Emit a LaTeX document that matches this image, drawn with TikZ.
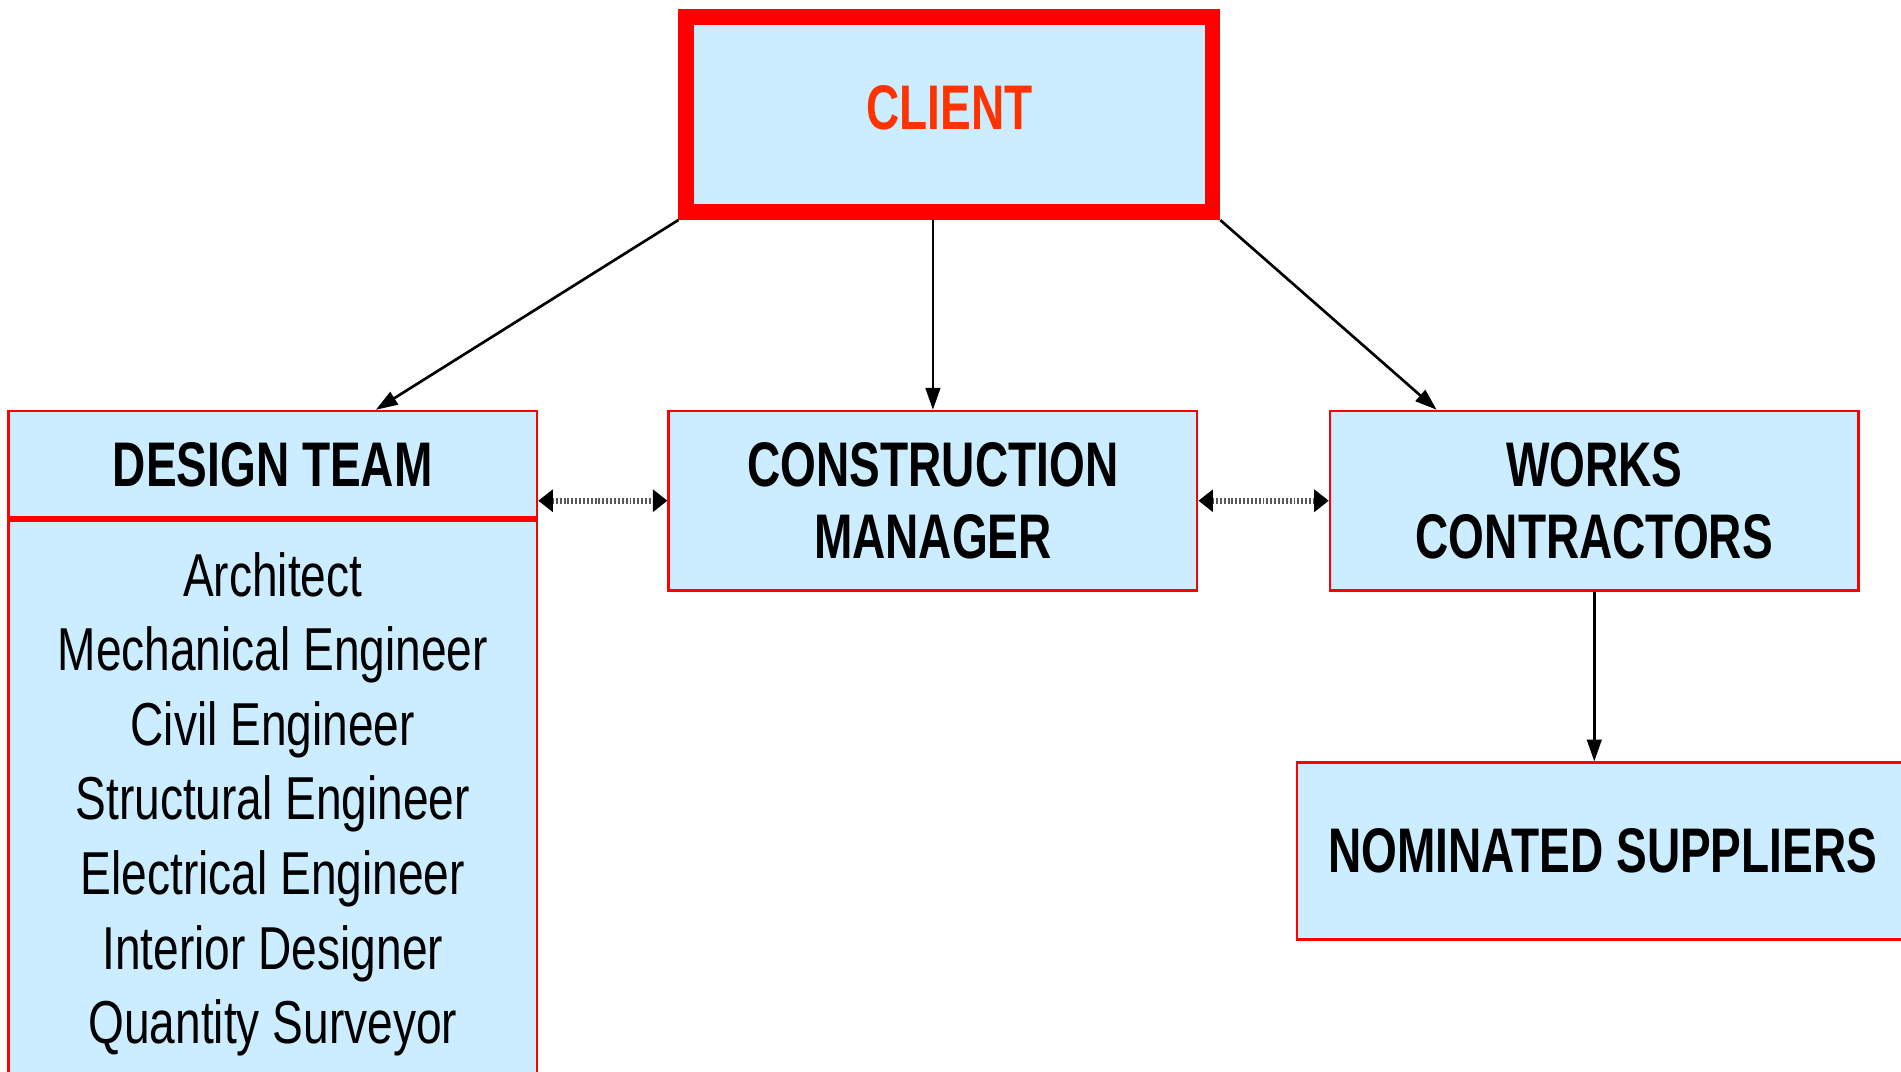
\documentclass[tikz,border=0pt]{standalone}
\usepackage{fontspec}
\setmainfont{Liberation Sans}[FakeStretch=0.76, BoldFeatures={FakeStretch=0.73}]
\usetikzlibrary{
  positioning,
  arrows.meta}
\definecolor{boxcolor}{RGB}{204,236,255}
\definecolor{bordercolor}{RGB}{255,0,0}
\definecolor{clientcolor}{RGB}{255,51,0}
\tikzset{
  %% party : one party of the project
  party/.style={
    rectangle,
    draw=bordercolor,
    line width=1pt,
    fill=boxcolor,
    minimum width=218pt,
    minimum height=74pt,
    inner sep=0pt,
    font=\fontsize{26}{30}\selectfont\bfseries,
    align=center
  },
  %% clientbox : the client on top, heavy frame
  clientbox/.style={
    party,
    line width=6.5pt,
    minimum width=217pt,
    minimum height=80.5pt,
    text=clientcolor
  },
  %% members : list of the design team members
  members/.style={
    party,
    minimum height=228pt,
    font=\fontsize{25}{30.75}\selectfont
  },
  %% link : line of authority
  link/.style={
    -{Triangle[length=9pt, width=6pt]},
    line width=1.1pt
  },
  %% liaison : two-way communication
  liaison/.style={
    {Triangle[length=6pt, width=9pt, color=black]}-{Triangle[length=6pt, width=9pt, color=black]},
    black!65,
    line width=2.5pt,
    dash pattern=on 0.8pt off 0.8pt
  }
}

\begin{document}
\begin{tikzpicture}
  [x=0.5pt,
  y=-0.5pt]

  \useasboundingbox (0, 0) rectangle (1568, 883.4);

  %% Top
  \node (client) [clientbox] at (783, 94.5) {\raisebox{6pt}{CLIENT}};

  %% Second row
  \node (designhead) [party, minimum height=44pt] at (225, 383) {DESIGN TEAM};

  \node (designlist) [members, below=0pt of designhead]{%
    \raisebox{-3.5pt}[\height][\depth]{\begin{tabular}{@{}c@{}}
      Architect\\
      Mechanical Engineer\\
      Civil Engineer\\
      Structural Engineer\\
      Electrical Engineer\\
      Interior Designer\\
      Quantity Surveyor
    \end{tabular}}%
  };
  \draw [bordercolor, line width=2.5pt]
    (designhead.south west) -- (designhead.south east);

  \node (manager) [party] at (769.5, 413) {%
    CONSTRUCTION\\MANAGER
  };

  \node (contractors) [party] at (1315, 413) {%
    WORKS\\CONTRACTORS
  };

  %% Third row
  \node (suppliers) [party, minimum width=252pt, minimum height=73pt]
    at (1322, 702) {NOMINATED SUPPLIERS};

  %% Connections
  \draw [link] (client.south west) -- ([xshift=42.5pt]designhead.north);
  \draw [link] (manager.north |- client.south) -- (manager.north);
  \draw [link] (client.south east) -- ([xshift=-65pt]contractors.north);
  \draw [link] (contractors.south) -- (contractors.south |- suppliers.north);

  %% Liaison
  \draw [liaison] (designhead.east |- manager.west) -- (manager.west);
  \draw [liaison] (manager.east) -- (contractors.west);

\end{tikzpicture}
\end{document}
